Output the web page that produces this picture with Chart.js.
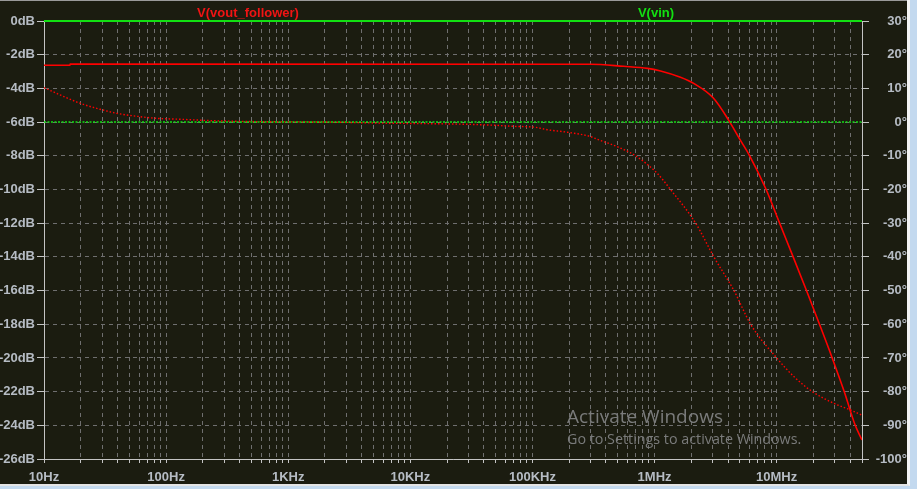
<!DOCTYPE html>
<html>
<head>
<meta charset="utf-8">
<script src="https://cdn.jsdelivr.net/npm/chart.js@4.4.0/dist/chart.umd.min.js"></script>
<style>
  html, body { margin: 0; padding: 0; background: #c3d9ef; overflow: hidden; }
  #wrap { position: absolute; left: 0; top: 0; width: 907px; height: 484px; border-right: 3px solid #f4f4f4; border-bottom: 2px solid #e4e4e4; }
  canvas { display: block; }
</style>
</head>
<body>
<div id="wrap"><canvas id="bode" width="907" height="484"></canvas></div>
<script>
// V(vout_follower) magnitude, dB
const magFreq = [10, 16.3, 16.4, 3.0e5, 5.57e5, 8.77e5, 1.12e6, 1.63e6, 2.09e6, 3.03e6, 4.04e6, 5.07e6, 6.01e6, 8.20e6, 1.058e7, 1.365e7, 1.755e7, 2.243e7, 2.85e7, 3.575e7, 4.40e7, 5.0e7]
const magFollower = [-2.63, -2.63, -2.56, -2.57, -2.69, -2.81, -2.97, -3.34, -3.70, -4.57, -5.88, -7.1, -8.0, -10.0, -12.0, -14.0, -16.0, -18.0, -20.0, -22.0, -24.0, -24.87]

// V(vout_follower) phase, degrees
const phaseFreq = [10, 19.7, 28.8, 39.4, 61.2, 84, 138, 243, 673, 2210, 5680, 29200, 49800, 69800, 106000, 132000, 192000, 299000, 339000, 494000, 698000, 1.05e6, 1.35e6, 2.17e6, 3.06e6, 4.47e6, 6.12e6, 1.0e7, 1.39e7, 1.96e7, 2.95e7, 4.05e7, 5.0e7]
const phaseFollower = [10.2, 5.6, 3.8, 2.6, 1.6, 1.1, 0.8, 0.4, 0.1, 0.0, -0.3, -0.66, -0.96, -1.26, -1.55, -2.26, -3.0, -4.3, -5.1, -7.3, -10.0, -15.2, -20.0, -30.0, -40.0, -50.0, -60.0, -70.0, -75.6, -80.0, -83.5, -85.5, -87.0]

// V(vin)
const vinFreq = [10, 5.0e7]
const vinMag = [0, 0]
const vinPhase = [0, 0]

const freqTicks = [10, 100, 1000, 10000, 100000, 1000000, 10000000]
const freqTickLabels = ['10Hz', '100Hz', '1KHz', '10KHz', '100KHz', '1MHz', '10MHz']

const red = '#ff0000'
const green = '#12e012'
const labelColor = '#b6bcc4'
const gridColor = '#6f6f6f'
const axisColor = '#c4c4c4'
const tickFont = { family: '"Liberation Sans", Arial, sans-serif', size: 13, weight: 'bold' }

const gridFreqs = []
freqTicks.forEach(d => {
  for (let k = 1; k <= 9; k++) {
    if (k * d <= 5.0e7) gridFreqs.push(k * d)
  }
})

const toPts = (xs, ys) => xs.map((x, i) => ({ x: x, y: ys[i] }))

const fitFont = (ctx, text, width, family) => {
  ctx.font = '20px ' + family
  const size = 20 * width / ctx.measureText(text).width
  return size.toFixed(1) + 'px ' + family
}

const frame = {
  id: 'frame',
  beforeDraw (chart) {
    const ctx = chart.ctx
    ctx.save()
    ctx.fillStyle = '#1b1c10'
    ctx.fillRect(0, 0, chart.width, chart.height)
    ctx.fillStyle = '#9a9a9a'
    ctx.fillRect(0, 0, chart.width, 1)
    ctx.restore()
  },
  afterDraw (chart) {
    const ctx = chart.ctx
    ctx.save()
    // trace names
    ctx.font = 'bold 13px "Liberation Sans", Arial, sans-serif'
    ctx.textAlign = 'center'
    ctx.textBaseline = 'middle'
    ctx.fillStyle = '#f01414'
    ctx.fillText('V(vout_follower)', 248, 13)
    ctx.fillStyle = green
    ctx.fillText('V(vin)', 656, 13)
    // windows watermark
    ctx.textAlign = 'left'
    ctx.textBaseline = 'alphabetic'
    ctx.fillStyle = '#7a7b7b'
    ctx.font = fitFont(ctx, 'Activate Windows', 156, '"Open Sans", sans-serif')
    ctx.fillText('Activate Windows', 567, 423)
    ctx.font = fitFont(ctx, 'Go to Settings to activate Windows.', 235, '"Open Sans", sans-serif')
    ctx.fillText('Go to Settings to activate Windows.', 567, 444)
    ctx.restore()
  }
}

const ctx = document.getElementById('bode').getContext('2d')
const bode = new Chart(ctx, {
  type: 'line',
  data: {
    datasets: [
      { data: toPts(vinFreq, vinPhase), yAxisID: 'y2', borderColor: green, borderWidth: 1.5, borderDash: [2, 1.5], pointRadius: 0 },
      { data: toPts(vinFreq, vinMag), yAxisID: 'y', borderColor: green, borderWidth: 2, pointRadius: 0, clip: 3 },
      { data: toPts(phaseFreq, phaseFollower), yAxisID: 'y2', borderColor: red, borderWidth: 1.4, borderDash: [1.5, 2], pointRadius: 0, cubicInterpolationMode: 'monotone' },
      { data: toPts(magFreq, magFollower), yAxisID: 'y', borderColor: red, borderWidth: 1.6, pointRadius: 0, cubicInterpolationMode: 'monotone' }
    ]
  },
  options: {
    responsive: false,
    animation: false,
    events: [],
    layout: { padding: { top: 21, left: 0, right: 0, bottom: 0 } },
    plugins: { legend: { display: false }, tooltip: { enabled: false } },
    scales: {
      x: {
        type: 'logarithmic',
        min: 10,
        max: 5.0e7,
        afterBuildTicks: (s) => { s.ticks = gridFreqs.map(v => ({ value: v })) },
        afterFit: (s) => { s.height = 25 },
        grid: { color: gridColor, tickColor: axisColor, tickLength: 4 },
        border: { display: true, color: axisColor, dash: [4, 4] },
        ticks: {
          autoSkip: false,
          maxRotation: 0,
          padding: 7,
          color: labelColor,
          font: tickFont,
          callback: (v) => {
            const i = freqTicks.indexOf(v)
            return i >= 0 ? freqTickLabels[i] : ''
          }
        }
      },
      y: {
        position: 'left',
        min: -26,
        max: 0,
        afterFit: (s) => { s.width = 44 },
        grid: { color: gridColor, tickColor: axisColor, tickLength: 7 },
        border: { display: true, color: axisColor, dash: [4, 4] },
        ticks: { stepSize: 2, padding: 2, color: labelColor, font: tickFont, callback: (v) => v + 'dB' }
      },
      y2: {
        position: 'right',
        min: -100,
        max: 30,
        afterFit: (s) => { s.width = 45 },
        grid: { drawOnChartArea: false, tickColor: axisColor, tickLength: 7 },
        border: { display: true, color: axisColor },
        ticks: { stepSize: 10, padding: 2, crossAlign: 'far', color: labelColor, font: tickFont, callback: (v) => v + '°' }
      }
    }
  },
  plugins: [frame]
})
</script>
</body>
</html>
